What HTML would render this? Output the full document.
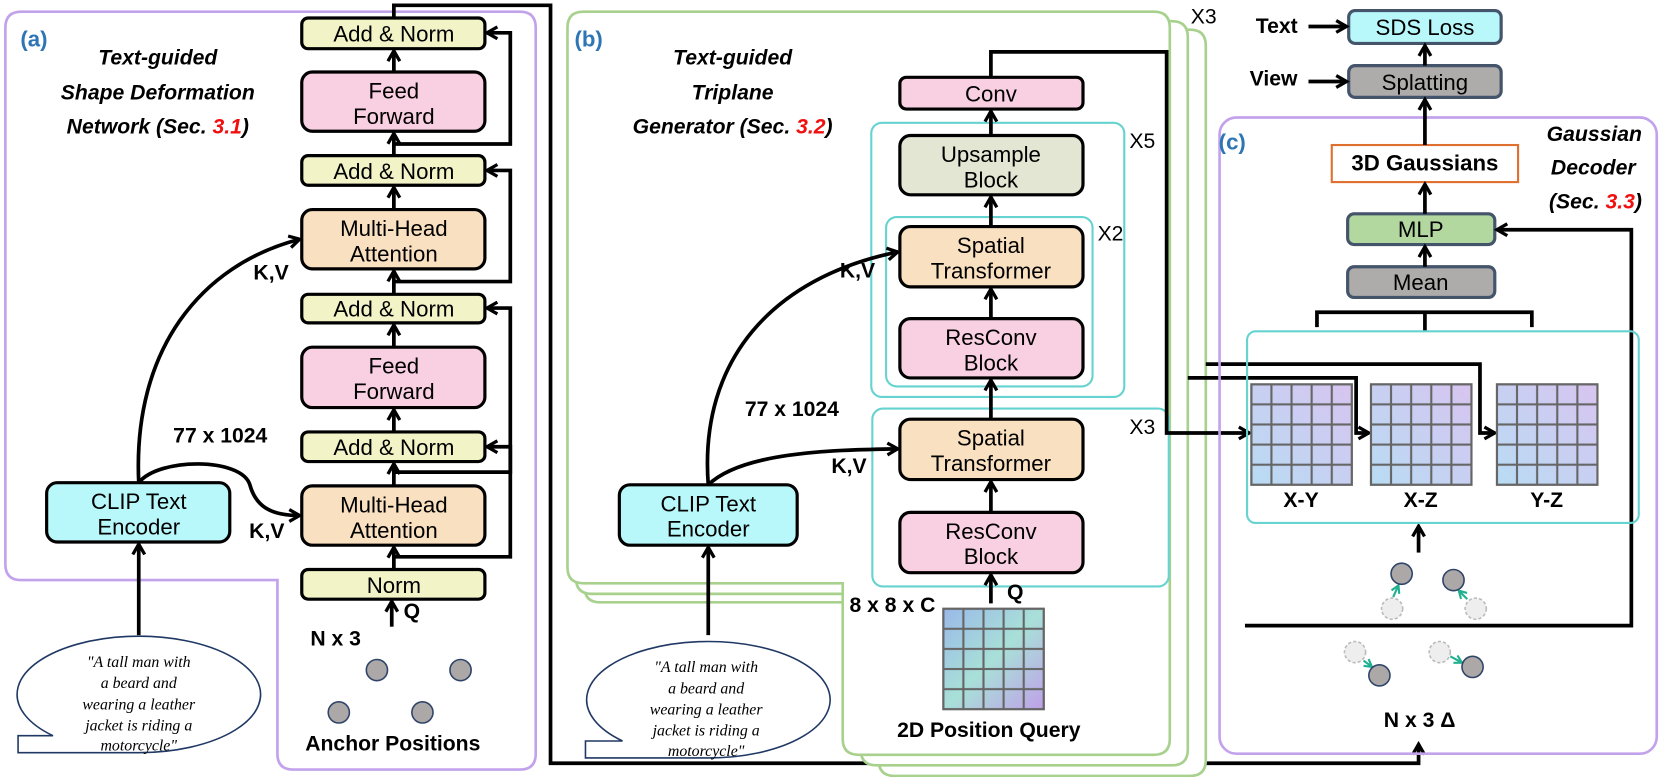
<!DOCTYPE html>
<html><head><meta charset="utf-8"><style>
html,body{margin:0;padding:0;background:#fff}
svg{display:block}
text{font-family:"Liberation Sans",sans-serif}
.b{stroke:#000;stroke-width:3}
.t{font-size:21px;text-anchor:middle}
.bi{font-weight:bold;font-style:italic;font-size:20px;text-anchor:middle}
.bd{font-weight:bold;font-size:20px;text-anchor:middle}
.ln{fill:none;stroke:#000;stroke-width:3.5}
.q{font-family:"Liberation Serif",serif;font-style:italic;font-size:15px;text-anchor:middle}
</style></head><body>
<svg width="1660" height="777" viewBox="0 0 1568 734" xmlns="http://www.w3.org/2000/svg">
<defs>
<marker id="a" viewBox="0 0 10 10" refX="8" refY="5" markerWidth="4" markerHeight="4" orient="auto"><path d="M1,1 L8,5 L1,9" fill="none" stroke="#000" stroke-width="2.2"/></marker>
<marker id="g" viewBox="0 0 10 10" refX="8" refY="5" markerWidth="5" markerHeight="5" orient="auto"><path d="M1,1 L8,5 L1,9" fill="none" stroke="#20b090" stroke-width="2"/></marker>
<linearGradient id="gg" x1="0" y1="1" x2="1" y2="0"><stop offset="0" stop-color="#b8dcf4"/><stop offset="1" stop-color="#d8c4f0"/></linearGradient>
<linearGradient id="pq" x1="0" y1="0" x2="1" y2="1"><stop offset="0" stop-color="#9ab8e8"/><stop offset="0.5" stop-color="#a8e0d8"/><stop offset="1" stop-color="#c0a0e8"/></linearGradient>
<pattern id="gp" width="0.2" height="0.2" patternUnits="objectBoundingBox"><rect x="0" y="0" width="19" height="19" fill="none" stroke="#666" stroke-width="2"/></pattern>
</defs>

<!-- Panel a border -->
<path d="M20,11 H491 Q506,11 506,26 V712 Q506,727 491,727 H277 Q262,727 262,712 V548 H20 Q5,548 5,533 V26 Q5,11 20,11 Z" fill="none" stroke="#c3a2ec" stroke-width="2.5"/>
<text x="32" y="44" font-size="21" font-weight="bold" fill="#2e75b6" text-anchor="middle">(a)</text>
<text x="149" y="61" class="bi">Text-guided</text>
<text x="149" y="94" class="bi">Shape Deformation</text>
<text x="149" y="126" class="bi">Network (Sec. <tspan fill="#f01010">3.1</tspan>)</text>

<g class="b">
<rect x="285" y="17" width="173" height="29" rx="6" fill="#f2f4c8"/>
<rect x="285" y="68" width="173" height="56" rx="10" fill="#f9cfe2"/>
<rect x="285" y="147" width="173" height="28" rx="6" fill="#f2f4c8"/>
<rect x="285" y="198" width="173" height="56" rx="10" fill="#f9e0c0"/>
<rect x="285" y="278" width="173" height="27" rx="6" fill="#f2f4c8"/>
<rect x="285" y="328" width="173" height="57" rx="10" fill="#f9cfe2"/>
<rect x="285" y="408" width="173" height="28" rx="6" fill="#f2f4c8"/>
<rect x="285" y="459" width="173" height="56" rx="10" fill="#f9e0c0"/>
<rect x="285" y="538" width="173" height="28" rx="6" fill="#f2f4c8"/>
<rect x="44" y="456" width="173" height="56" rx="10" fill="#b8f8fa"/>
</g>
<text x="372" y="39" class="t">Add &amp; Norm</text>
<text x="372" y="93" class="t">Feed</text><text x="372" y="117" class="t">Forward</text>
<text x="372" y="169" class="t">Add &amp; Norm</text>
<text x="372" y="223" class="t">Multi-Head</text><text x="372" y="247" class="t">Attention</text>
<text x="372" y="299" class="t">Add &amp; Norm</text>
<text x="372" y="353" class="t">Feed</text><text x="372" y="377" class="t">Forward</text>
<text x="372" y="430" class="t">Add &amp; Norm</text>
<text x="372" y="484" class="t">Multi-Head</text><text x="372" y="508" class="t">Attention</text>
<text x="372" y="560" class="t">Norm</text>
<text x="131" y="481" class="t">CLIP Text</text><text x="131" y="505" class="t">Encoder</text>

<g class="ln" marker-end="url(#a)">
<line x1="372" y1="538" x2="372" y2="517"/>
<line x1="372" y1="459" x2="372" y2="438"/>
<line x1="372" y1="408" x2="372" y2="387"/>
<line x1="372" y1="328" x2="372" y2="307"/>
<line x1="372" y1="278" x2="372" y2="256"/>
<line x1="372" y1="198" x2="372" y2="177"/>
<line x1="372" y1="147" x2="372" y2="126"/>
<line x1="372" y1="68" x2="372" y2="48"/>
<polyline points="372,526 482,526 482,422 460,422"/>
<polyline points="372,446 482,446 482,291 460,291"/>
<polyline points="372,266 482,266 482,161 460,161"/>
<polyline points="372,136 482,136 482,31 460,31"/>
<line x1="370" y1="592" x2="370" y2="568"/>
<line x1="131" y1="600" x2="131" y2="514"/>
<path d="M131,456 C125,330 190,250 283,226"/>
<path d="M131,456 C150,432 228,432 236,458 C242,480 258,487 283,487"/>
<polyline points="372,17 372,5 520,5 520,721 1340,721 1340,703"/>
</g>
<text x="208" y="418" class="bd">77 x 1024</text>
<text x="256" y="264" class="bd">K,V</text>
<text x="252" y="508" class="bd">K,V</text>
<text x="389" y="584" class="bd">Q</text>
<text x="317" y="610" class="bd">N x 3</text>
<g fill="#aca8a8" stroke="#2f4468" stroke-width="1.5">
<circle cx="356" cy="633" r="10"/><circle cx="435" cy="633" r="10"/><circle cx="320" cy="673" r="10"/><circle cx="399" cy="673" r="10"/>
</g>
<text x="371" y="709" class="bd">Anchor Positions</text>

<path d="M50,695 H17 V711 H131 A115,55 0 1 0 50,695 Z" fill="#fff" stroke="#203864" stroke-width="1.5"/>
<text x="131" y="630" class="q">"A tall man with</text>
<text x="131" y="650" class="q">a beard and</text>
<text x="131" y="670" class="q">wearing a leather</text>
<text x="131" y="690" class="q">jacket is riding a</text>
<text x="131" y="709" class="q">motorcycle"</text>

<!-- Panel b frames -->
<g fill="#fff" stroke="#a9d18e" stroke-width="2.5">
<path d="M567,28 H1124 Q1139,28 1139,43 V718 Q1139,733 1124,733 H845 Q830,733 830,718 V569 H567 Q552,569 552,554 V43 Q552,28 567,28 Z"/>
<path d="M559,20 H1107 Q1122,20 1122,35 V708 Q1122,723 1107,723 H828 Q813,723 813,708 V561 H559 Q544,561 544,546 V35 Q544,20 559,20 Z"/>
<path d="M551,11 H1090 Q1105,11 1105,26 V698 Q1105,713 1090,713 H811 Q796,713 796,698 V551 H551 Q536,551 536,536 V26 Q536,11 551,11 Z"/>
</g>
<text x="1137" y="22" font-size="20" text-anchor="middle">X3</text>
<text x="556" y="44" font-size="21" font-weight="bold" fill="#2e75b6" text-anchor="middle">(b)</text>
<text x="692" y="61" class="bi">Text-guided</text>
<text x="692" y="94" class="bi">Triplane</text>
<text x="692" y="126" class="bi">Generator (Sec. <tspan fill="#f01010">3.2</tspan>)</text>

<g fill="none" stroke="#66d3d0" stroke-width="2">
<rect x="823" y="116" width="239" height="259" rx="10"/>
<rect x="837" y="205" width="195" height="160" rx="10"/>
<rect x="824" y="386" width="280" height="168" rx="10"/>
</g>
<text x="1079" y="140" font-size="20" text-anchor="middle">X5</text>
<text x="1049" y="227" font-size="20" text-anchor="middle">X2</text>
<text x="1079" y="410" font-size="20" text-anchor="middle">X3</text>
<g class="b">
<rect x="850" y="73" width="173" height="30" rx="6" fill="#f9cfe2"/>
<rect x="850" y="128" width="173" height="56" rx="10" fill="#e2e6d2"/>
<rect x="850" y="214" width="173" height="57" rx="10" fill="#f9e0c0"/>
<rect x="850" y="301" width="173" height="56" rx="10" fill="#f9cfe2"/>
<rect x="850" y="396" width="173" height="57" rx="10" fill="#f9e0c0"/>
<rect x="850" y="484" width="173" height="57" rx="10" fill="#f9cfe2"/>
<rect x="585" y="458" width="168" height="57" rx="10" fill="#b8f8fa"/>
</g>
<text x="936" y="96" class="t">Conv</text>
<text x="936" y="153" class="t">Upsample</text><text x="936" y="177" class="t">Block</text>
<text x="936" y="239" class="t">Spatial</text><text x="936" y="263" class="t">Transformer</text>
<text x="936" y="326" class="t">ResConv</text><text x="936" y="350" class="t">Block</text>
<text x="936" y="421" class="t">Spatial</text><text x="936" y="445" class="t">Transformer</text>
<text x="936" y="509" class="t">ResConv</text><text x="936" y="533" class="t">Block</text>
<text x="669" y="483" class="t">CLIP Text</text><text x="669" y="507" class="t">Encoder</text>

<g class="ln" marker-end="url(#a)">
<line x1="936" y1="128" x2="936" y2="105"/>
<line x1="936" y1="214" x2="936" y2="186"/>
<line x1="936" y1="301" x2="936" y2="273"/>
<line x1="936" y1="396" x2="936" y2="359"/>
<line x1="936" y1="484" x2="936" y2="455"/>
<line x1="936" y1="570" x2="936" y2="543"/>
<line x1="669" y1="600" x2="669" y2="517"/>
<path d="M669,458 C700,428 780,425 848,424"/>
<path d="M669,458 C660,340 730,262 848,238"/>
<polyline points="936,73 936,49 1102,49 1102,409 1180,409"/>
<polyline points="1122,357 1281,357 1281,409 1293,409"/>
<polyline points="1139,344 1398,344 1398,409 1412,409"/>
</g>
<text x="748" y="393" class="bd">77 x 1024</text>
<text x="802" y="447" class="bd">K,V</text>
<text x="810" y="262" class="bd">K,V</text>
<text x="843" y="578" class="bd">8 x 8 x C</text>
<text x="959" y="566" class="bd">Q</text>
<rect x="891" y="575" width="95" height="95" fill="url(#pq)"/>
<rect x="891" y="575" width="95" height="95" fill="url(#gp)" stroke="#666" stroke-width="2"/>
<text x="934" y="696" class="bd">2D Position Query</text>

<path d="M588,700 H553 V716 H667 A115,55 0 1 0 588,700 Z" fill="#fff" stroke="#203864" stroke-width="1.5"/>
<text x="667" y="635" class="q">"A tall man with</text>
<text x="667" y="655" class="q">a beard and</text>
<text x="667" y="675" class="q">wearing a leather</text>
<text x="667" y="695" class="q">jacket is riding a</text>
<text x="667" y="714" class="q">motorcycle"</text>

<!-- Panel c -->
<rect x="1152" y="111" width="413" height="601" rx="16" fill="none" stroke="#c3a2ec" stroke-width="2.5"/>
<text x="1164" y="141" font-size="21" font-weight="bold" fill="#2e75b6" text-anchor="middle">(c)</text>
<g class="bi" style="text-anchor:end">
<text x="1551" y="133">Gaussian</text>
<text x="1545" y="165">Decoder</text>
<text x="1551" y="197">(Sec. <tspan fill="#f01010">3.3</tspan>)</text>
</g>
<text x="1206" y="31" class="bd">Text</text>
<text x="1203" y="81" class="bd">View</text>
<g stroke="#44546a" stroke-width="3">
<rect x="1274" y="10" width="144" height="31" rx="6" fill="#b8f8fa"/>
<rect x="1274" y="62" width="144" height="30" rx="6" fill="#aeabab"/>
<rect x="1273" y="202" width="139" height="29" rx="6" fill="#b2d8a0"/>
<rect x="1273" y="252" width="139" height="29" rx="6" fill="#aeabab"/>
</g>
<rect x="1258" y="137" width="176" height="35" fill="#fff" stroke="#e07030" stroke-width="2"/>
<text x="1346" y="33" class="t">SDS Loss</text>
<text x="1346" y="85" class="t">Splatting</text>
<text x="1346" y="161" class="bd" style="font-size:21px">3D Gaussians</text>
<text x="1342" y="224" class="t">MLP</text>
<text x="1342" y="274" class="t">Mean</text>
<g class="ln" marker-end="url(#a)">
<line x1="1236" y1="25" x2="1272" y2="25"/>
<line x1="1236" y1="77" x2="1272" y2="77"/>
<line x1="1346" y1="62" x2="1346" y2="43"/>
<line x1="1346" y1="137" x2="1346" y2="94"/>
<line x1="1346" y1="202" x2="1346" y2="174"/>
<line x1="1346" y1="252" x2="1346" y2="233"/>
<line x1="1340" y1="522" x2="1340" y2="497"/>
<polyline points="1176,591 1541,591 1541,217 1414,217"/>
</g>
<polyline points="1244,309 1244,295 1447,295 1447,309" class="ln"/>
<line x1="1346" y1="295" x2="1346" y2="313" class="ln"/>
<rect x="1178" y="313" width="370" height="181" rx="8" fill="none" stroke="#66d3d0" stroke-width="2"/>
<g>
<rect x="1182" y="363" width="95" height="95" fill="url(#gg)"/><rect x="1182" y="363" width="95" height="95" fill="url(#gp)" stroke="#666" stroke-width="2"/>
<rect x="1295" y="363" width="95" height="95" fill="url(#gg)"/><rect x="1295" y="363" width="95" height="95" fill="url(#gp)" stroke="#666" stroke-width="2"/>
<rect x="1414" y="363" width="95" height="95" fill="url(#gg)"/><rect x="1414" y="363" width="95" height="95" fill="url(#gp)" stroke="#666" stroke-width="2"/>
</g>
<text x="1229" y="479" class="bd">X-Y</text>
<text x="1342" y="479" class="bd">X-Z</text>
<text x="1461" y="479" class="bd">Y-Z</text>
<g fill="#eee" stroke="#bbb" stroke-width="1.5" stroke-dasharray="3,2">
<circle cx="1315" cy="575" r="10"/><circle cx="1394" cy="575" r="10"/><circle cx="1280" cy="616" r="10"/><circle cx="1360" cy="616" r="10"/>
</g>
<g stroke="#20b090" stroke-width="2" marker-end="url(#g)">
<line x1="1316" y1="564" x2="1321" y2="553"/>
<line x1="1386" y1="566" x2="1378" y2="558"/>
<line x1="1288" y1="624" x2="1296" y2="630"/>
<line x1="1370" y1="620" x2="1381" y2="626"/>
</g>
<g fill="#aca8a8" stroke="#2f4468" stroke-width="1.5">
<circle cx="1324" cy="542" r="10"/><circle cx="1373" cy="548" r="10"/><circle cx="1303" cy="638" r="10"/><circle cx="1391" cy="630" r="10"/>
</g>
<text x="1341" y="687" class="bd">N x 3 Δ</text>
</svg>
</body></html>
